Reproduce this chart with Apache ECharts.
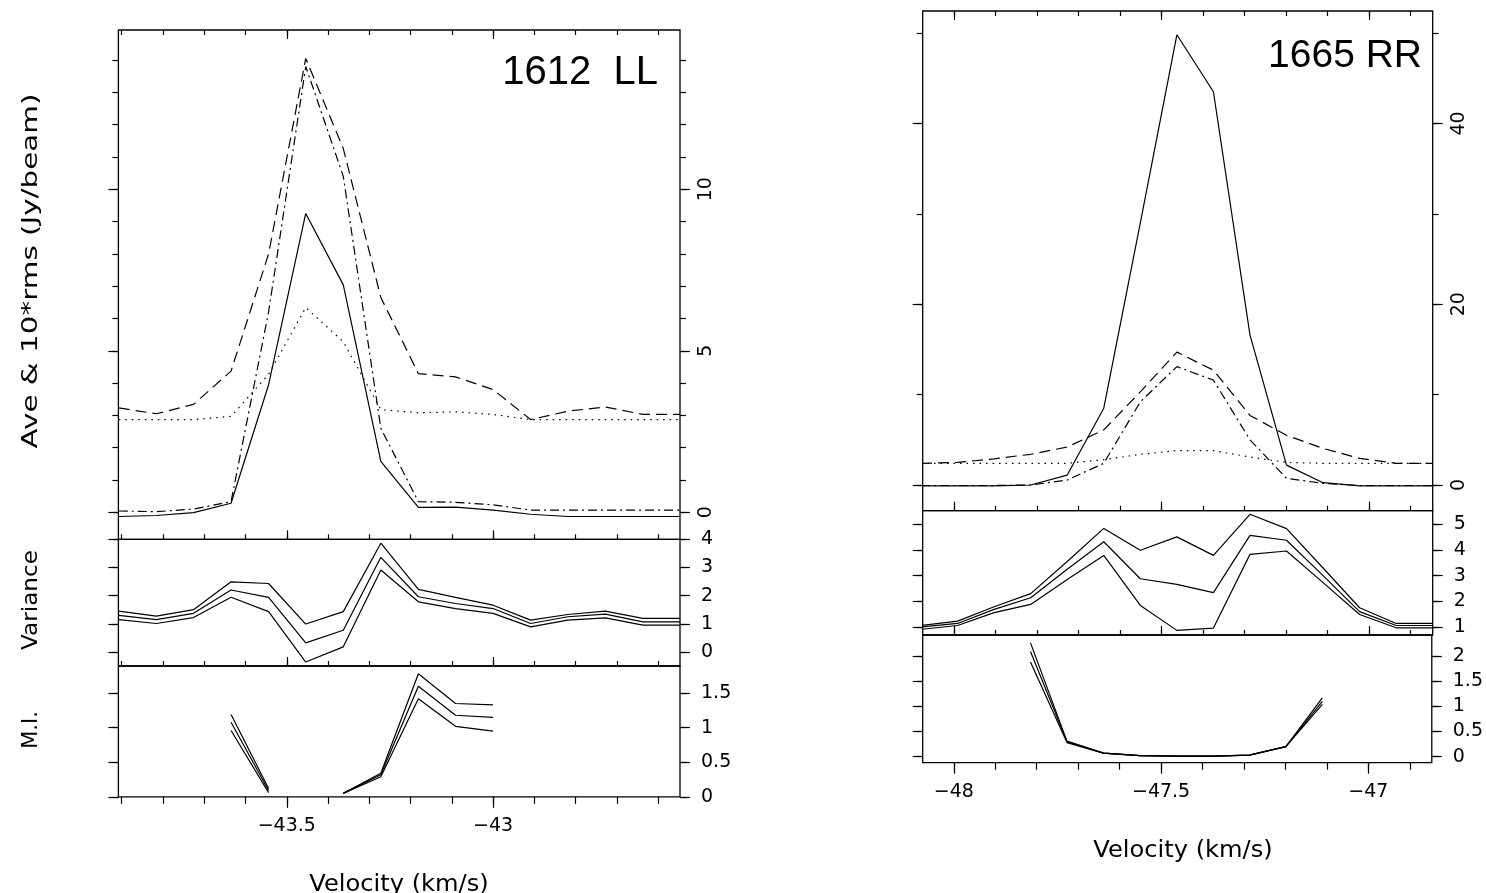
<!DOCTYPE html>
<html><head><meta charset="utf-8">
<script src="https://cdn.jsdelivr.net/npm/echarts@6/dist/echarts.min.js"></script>
<style>html,body{margin:0;padding:0;background:#fff}#c{width:1486px;height:893px}</style>
</head><body><div id="c"></div>
<script>
// ---------- data ----------
const vLeft = [-43.907, -43.816, -43.726, -43.635, -43.544, -43.454, -43.363, -43.272, -43.181, -43.091, -43.000, -42.909, -42.819, -42.728, -42.637, -42.547];
const L_solid   = [-0.13, -0.10, -0.01, 0.28, 3.95, 9.25, 7.04, 1.58, 0.15, 0.16, 0.07, -0.06, -0.13, -0.13, -0.13, -0.13];
const L_dash    = [3.23, 3.05, 3.34, 4.37, 8.0, 14.05, 11.26, 6.65, 4.29, 4.19, 3.8, 2.87, 3.13, 3.26, 3.03, 3.03];
const L_dashdot = [0.04, 0.02, 0.10, 0.33, 6.2, 13.8, 10.4, 2.6, 0.33, 0.31, 0.23, 0.07, 0.07, 0.07, 0.07, 0.07];
const L_dot     = [2.87, 2.87, 2.87, 2.97, 4.27, 6.34, 5.28, 3.18, 3.08, 3.11, 3.03, 2.87, 2.87, 2.87, 2.87, 2.87];
const L_varHi  = [1.45, 1.27, 1.50, 2.49, 2.43, 0.99, 1.43, 3.86, 2.22, 1.94, 1.66, 1.13, 1.33, 1.45, 1.19, 1.19];
const L_varMid = [1.30, 1.15, 1.37, 2.20, 1.94, 0.32, 0.77, 3.36, 1.96, 1.72, 1.54, 1.01, 1.25, 1.34, 1.07, 1.07];
const L_varLo  = [1.15, 1.01, 1.22, 1.94, 1.43, -0.36, 0.18, 2.91, 1.78, 1.54, 1.37, 0.89, 1.13, 1.21, 0.95, 0.95];
const L_miHi  = [null, null, null, 1.19, 0.12, null, 0.05, 0.34, 1.78, 1.35, 1.33, null, null, null, null, null];
const L_miMid = [null, null, null, 1.08, 0.09, null, 0.05, 0.32, 1.60, 1.18, 1.15, null, null, null, null, null];
const L_miLo  = [null, null, null, 0.96, 0.06, null, 0.05, 0.29, 1.42, 1.02, 0.95, null, null, null, null, null];

const vRight = [-48.079, -47.991, -47.903, -47.815, -47.727, -47.639, -47.551, -47.463, -47.375, -47.287, -47.199, -47.111, -47.023, -46.935, -46.847];
const R_solid   = [-0.1, -0.1, -0.1, 0.0, 1.1, 8.5, 29.0, 49.8, 43.5, 16.6, 2.2, 0.26, -0.1, -0.1, -0.1];
const R_dash    = [2.4, 2.5, 2.9, 3.4, 4.2, 6.1, 10.3, 14.7, 12.7, 7.7, 5.5, 4.05, 2.95, 2.4, 2.4];
const R_dashdot = [-0.05, -0.05, -0.05, 0.0, 0.55, 2.4, 9.2, 13.1, 11.6, 5.0, 0.74, 0.18, -0.05, -0.05, -0.05];
const R_dot     = [2.4, 2.4, 2.4, 2.4, 2.4, 2.8, 3.4, 3.8, 3.8, 3.1, 2.5, 2.4, 2.4, 2.4, 2.4];
const R_varHi  = [1.06, 1.23, 1.79, 2.30, 3.55, 4.84, 3.99, 4.51, 3.79, 5.39, 4.83, 3.30, 1.75, 1.14, 1.14];
const R_varMid = [1.00, 1.14, 1.69, 2.14, 3.25, 4.32, 2.88, 2.66, 2.34, 4.57, 4.38, 3.00, 1.60, 1.06, 1.06];
const R_varLo  = [0.91, 1.06, 1.56, 1.88, 2.85, 3.79, 1.84, 0.87, 0.96, 3.83, 3.96, 2.73, 1.49, 0.97, 0.97];
const R_miHi  = [null, null, null, 2.26, 0.31, 0.07, 0.02, 0.01, 0.01, 0.03, 0.20, 1.17, null, null, null];
const R_miMid = [null, null, null, 2.09, 0.30, 0.07, 0.02, 0.01, 0.01, 0.03, 0.20, 1.10, null, null, null];
const R_miLo  = [null, null, null, 1.88, 0.28, 0.07, 0.02, 0.01, 0.01, 0.03, 0.20, 1.04, null, null, null];

// tick values
const L_xMinor = [-43.9, -43.8, -43.7, -43.6, -43.5, -43.4, -43.3, -43.2, -43.1, -43.0, -42.9, -42.8, -42.7, -42.6];
const L_xMajor = [-43.5, -43.0];
const R_xMinor = [-48.0, -47.9, -47.8, -47.7, -47.6, -47.5, -47.4, -47.3, -47.2, -47.1, -47.0, -46.9];
const R_xMajor = [-48.0, -47.5, -47.0];
const L_topMinor = [0,1,2,3,4,5,6,7,8,9,10,11,12,13,14];
const L_topMajor = [0, 5, 10];
const L_varTicks = [0, 1, 2, 3, 4];
const L_miTicks = [0, 0.5, 1, 1.5];
const R_topMinor = [0, 10, 20, 30, 40, 50];
const R_topMajor = [0, 20, 40];
const R_varTicks = [1, 2, 3, 4, 5];
const R_miTicks = [0, 0.5, 1, 1.5, 2];

// ---------- layout ----------
const panels = [
  {g:{left:118.4, top:30,    width:561.6, height:509.3}, x:[-43.908,-42.547], y:[-0.836,14.93], xMinor:L_xMinor, xMajor:L_xMajor, xLab:false, xOut:false, topTicks:true,  yMinor:L_topMinor, yMajor:L_topMajor, rot:90},
  {g:{left:118.4, top:539.3, width:561.6, height:126.7}, x:[-43.908,-42.547], y:[-0.5,4.0],     xMinor:L_xMinor, xMajor:L_xMajor, xLab:false, xOut:false, topTicks:false, yMinor:L_varTicks, yMajor:L_varTicks, rot:0},
  {g:{left:118.4, top:666,   width:561.6, height:130.8}, x:[-43.908,-42.547], y:[0,1.893],      xMinor:L_xMinor, xMajor:L_xMajor, xLab:true,  xOut:true,  topTicks:false, yMinor:L_miTicks, yMajor:L_miTicks, rot:0},
  {g:{left:922.7, top:11,    width:510,   height:499.7}, x:[-48.075,-46.847], y:[-2.84,52.43],  xMinor:R_xMinor, xMajor:R_xMajor, xLab:false, xOut:false, topTicks:true,  yMinor:R_topMinor, yMajor:R_topMajor, rot:90},
  {g:{left:922.7, top:510.7, width:510,   height:124.3}, x:[-48.075,-46.847], y:[0.69,5.53],    xMinor:R_xMinor, xMajor:R_xMajor, xLab:false, xOut:false, topTicks:false, yMinor:R_varTicks, yMajor:R_varTicks, rot:0},
  {g:{left:922.7, top:635,   width:510,   height:127.7}, x:[-48.075,-46.847], y:[-0.119,2.417], xMinor:R_xMinor, xMajor:R_xMajor, xLab:true,  xOut:true,  topTicks:false, yMinor:R_miTicks, yMajor:R_miTicks, rot:0}
];

const FONT = 'DejaVu Sans';
const fmt = v => String(v).replace('-', '\u2212');
const grid = [], xAxis = [], yAxis = [], xIdx = [], yIdx = [];

function axis(gi, pos, range, vals, len, inside, labels, rot, margin) {
  return {
    type:'value', gridIndex:gi, position:pos, min:range[0], max:range[1],
    axisLine:{show:false, onZero:false}, splitLine:{show:false},
    axisTick:{show: vals.length > 0, inside: inside, length: len, customValues: vals, lineStyle:{color:'#000', width:1.2}},
    axisLabel:{show: !!labels, customValues: labels || undefined, rotate: rot || 0, margin: margin || 8,
      formatter: fmt, color:'#000', fontFamily: FONT, fontSize: 19},
    silent: true
  };
}

panels.forEach((p, gi) => {
  grid.push(Object.assign({show:true, borderColor:'#000', borderWidth:1.3, backgroundColor:'transparent'}, p.g));
  xIdx.push(xAxis.length);
  xAxis.push(axis(gi, 'bottom', p.x, p.xMinor, p.xOut ? 7 : 5, !p.xOut, null));
  xAxis.push(axis(gi, 'bottom', p.x, p.xMajor, p.xOut ? 11 : 9, !p.xOut, p.xLab ? p.xMajor : null, 0, 20));
  if (p.topTicks) {
    xAxis.push(axis(gi, 'top', p.x, p.xMinor, 5, true, null));
    xAxis.push(axis(gi, 'top', p.x, p.xMajor, 9, true, null));
  }
  yIdx.push(yAxis.length);
  yAxis.push(axis(gi, 'right', p.y, p.yMajor, 10, false, p.yMajor, p.rot, p.rot ? 17 : 21));
  yAxis.push(axis(gi, 'right', p.y, p.yMinor, 6, false, null));
  yAxis.push(axis(gi, 'left', p.y, p.yMinor, 6, false, null));
  yAxis.push(axis(gi, 'left', p.y, p.yMajor, 10, false, null));
});

const DASH = [11, 6], DASHDOT = [9, 4, 2, 4], DOT = [1.5, 5];
function line(name, gi, xs, ys, type) {
  return {
    name: name, type:'line', xAxisIndex: xIdx[gi], yAxisIndex: yIdx[gi],
    data: xs.map((x, i) => ys[i] == null ? [x, '-'] : [x, ys[i]]),
    symbol:'none', showSymbol:false, connectNulls:false, silent:true, animation:false,
    lineStyle:{color:'#000', width:1.2, type: type}
  };
}

const series = [
  line('Ave', 0, vLeft, L_solid, 'solid'),
  line('Max', 0, vLeft, L_dash, DASH),
  line('Peak', 0, vLeft, L_dashdot, DASHDOT),
  line('10*rms', 0, vLeft, L_dot, DOT),
  line('Var+', 1, vLeft, L_varHi, 'solid'),
  line('Var', 1, vLeft, L_varMid, 'solid'),
  line('Var-', 1, vLeft, L_varLo, 'solid'),
  line('MI+', 2, vLeft, L_miHi, 'solid'),
  line('MI', 2, vLeft, L_miMid, 'solid'),
  line('MI-', 2, vLeft, L_miLo, 'solid'),
  line('Ave', 3, vRight, R_solid, 'solid'),
  line('Max', 3, vRight, R_dash, DASH),
  line('Peak', 3, vRight, R_dashdot, DASHDOT),
  line('10*rms', 3, vRight, R_dot, DOT),
  line('Var+', 4, vRight, R_varHi, 'solid'),
  line('Var', 4, vRight, R_varMid, 'solid'),
  line('Var-', 4, vRight, R_varLo, 'solid'),
  line('MI+', 5, vRight, R_miHi, 'solid'),
  line('MI', 5, vRight, R_miMid, 'solid'),
  line('MI-', 5, vRight, R_miLo, 'solid')
];

function txt(text, x, y, size, opts) {
  opts = opts || {};
  return {
    type:'text', x:x, y:y, rotation: opts.rot || 0, scaleX: opts.sx || 1, silent:true,
    style:{text:text, fill:'#000', font: size + 'px "' + (opts.family || FONT) + '"',
      textAlign: opts.align || 'center', align: opts.align || 'center',
      textVerticalAlign:'middle', verticalAlign:'middle'}
  };
}

const graphic = [
  txt('1612  LL', 658, 73, 40, {align:'right', family:'Liberation Sans'}),
  txt('1665 RR', 1422, 56, 39, {align:'right', family:'Liberation Sans'}),
  txt('Ave & 10*rms (Jy/beam)', 32, 271, 21, {rot: Math.PI/2, sx: 1.4}),
  txt('Variance', 32, 600, 21, {rot: Math.PI/2, sx: 1.1}),
  txt('M.I.', 32, 730, 21, {rot: Math.PI/2}),
  txt('Velocity (km/s)', 399, 885, 23, {sx: 1.05}),
  txt('Velocity (km/s)', 1183, 851, 23, {sx: 1.05})
];

const chart = echarts.init(document.getElementById('c'), null, {renderer:'canvas'});
chart.setOption({animation:false, backgroundColor:'#fff', grid, xAxis, yAxis, series, graphic});
</script></body></html>
